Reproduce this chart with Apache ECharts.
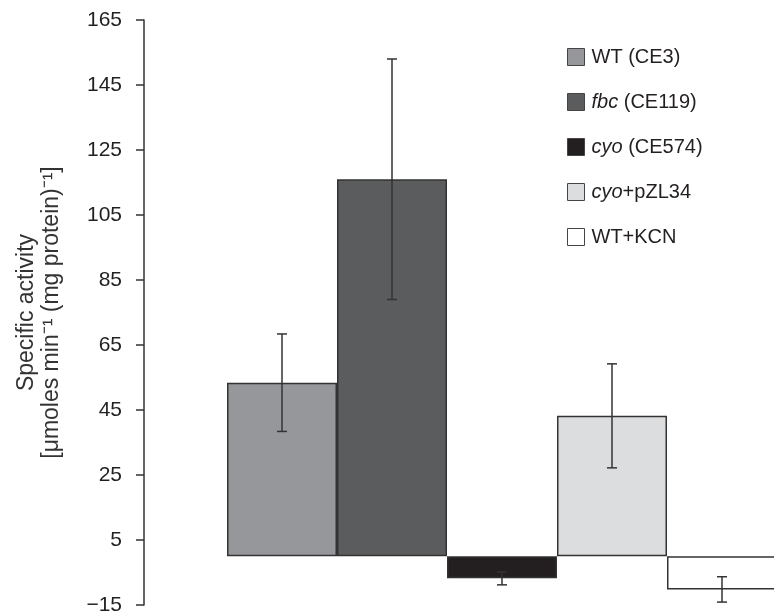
<!DOCTYPE html>
<html lang="en">
<head>
  <meta charset="UTF-8">
  <title>Specific activity</title>
  <script src="https://cdn.jsdelivr.net/npm/echarts@6/dist/echarts.min.js"></script>
</head>
<body style="margin:0;background:#fff">
  <div id="main" style="width:774px;height:616px;"></div>
  <script type="text/javascript">
    // strains (categories) and their measured activity
    const categories = ['WT (CE3)', 'fbc (CE119)', 'cyo (CE574)', 'cyo+pZL34', 'WT+KCN']
    const means = [53.4, 116, -6.8, 43.2, -10.2]
    const errors = [15, 37, 2, 16, 3.9]
    const colors = ['#96979a', '#5b5c5e', '#231f20', '#dcdddf', '#ffffff']
    const yTicks = { min: -15, max: 165, step: 20 }

    const myChart = echarts.init(document.getElementById('main'))
    const font = 'Liberation Sans, Arial, Helvetica, sans-serif'
    const ink = '#231f20'

    // one series per strain so the legend lists them, stacked so each fills its band
    const barSeries = categories.map((name, i) => ({
      name: name,
      type: 'bar',
      stack: 'all',
      barWidth: '100%',
      data: categories.map((c, j) => (j === i ? means[i] : '-')),
      itemStyle: { color: colors[i], borderColor: '#333', borderWidth: 1.5 },
      emphasis: { disabled: true },
      z: 2
    }))

    const errorSeries = {
      type: 'custom',
      name: 'err',
      z: 5,
      data: means.map((m, i) => [i, m - errors[i], m + errors[i]]),
      renderItem: function(params, api) {
        const x = api.coord([api.value(0), 0])[0]
        const lo = api.coord([api.value(0), api.value(1)])[1]
        const hi = api.coord([api.value(0), api.value(2)])[1]
        const cap = 5
        const style = { stroke: '#333', lineWidth: 1.5 }
        return {
          type: 'group',
          children: [
            { type: 'line', shape: { x1: x, y1: lo, x2: x, y2: hi }, style: style },
            { type: 'line', shape: { x1: x - cap, y1: lo, x2: x + cap, y2: lo }, style: style },
            { type: 'line', shape: { x1: x - cap, y1: hi, x2: x + cap, y2: hi }, style: style }
          ]
        }
      }
    }

    function legendText(name) {
      if (name.indexOf('fbc') === 0) return '{i|fbc}' + name.slice(3)
      if (name.indexOf('cyo') === 0) return '{i|cyo}' + name.slice(3)
      return name
    }

    const option = {
      animation: false,
      grid: { left: 227, top: 20, width: 550, height: 585, containLabel: false, outerBoundsMode: 'none' },
      legend: {
        data: categories,
        orient: 'vertical',
        left: 562,
        top: 42,
        itemWidth: 17,
        itemHeight: 17,
        itemGap: 25,
        icon: 'rect',
        selectedMode: false,
        itemStyle: { borderColor: '#444', borderWidth: 1 },
        formatter: legendText,
        textStyle: {
          fontFamily: font, fontSize: 20, color: ink, padding: [0, 0, 0, 2],
          rich: { i: { fontFamily: font, fontSize: 20, fontStyle: 'italic', color: ink } }
        }
      },
      xAxis: {
        type: 'category',
        data: categories,
        show: false
      },
      yAxis: {
        type: 'value',
        min: yTicks.min,
        max: yTicks.max,
        interval: yTicks.step,
        offset: 83,
        name: 'Specific activity\n[\u03bcmoles min\u207b\u00b9 (mg protein)\u207b\u00b9]',
        nameLocation: 'middle',
        nameGap: 80,
        nameTextStyle: { fontFamily: font, fontSize: 23, color: '#333', lineHeight: 25 },
        axisLine: { show: true, lineStyle: { color: '#333', width: 1.5 } },
        axisTick: { show: true, length: 8, lineStyle: { color: '#333', width: 1.5 } },
        axisLabel: {
          fontFamily: font, fontSize: 21, color: ink, margin: 22,
          formatter: v => (v < 0 ? '\u2212' + Math.abs(v) : String(v))
        },
        splitLine: { show: false }
      },
      series: barSeries.concat([errorSeries])
    }

    myChart.setOption(option)
  </script>
</body>
</html>
